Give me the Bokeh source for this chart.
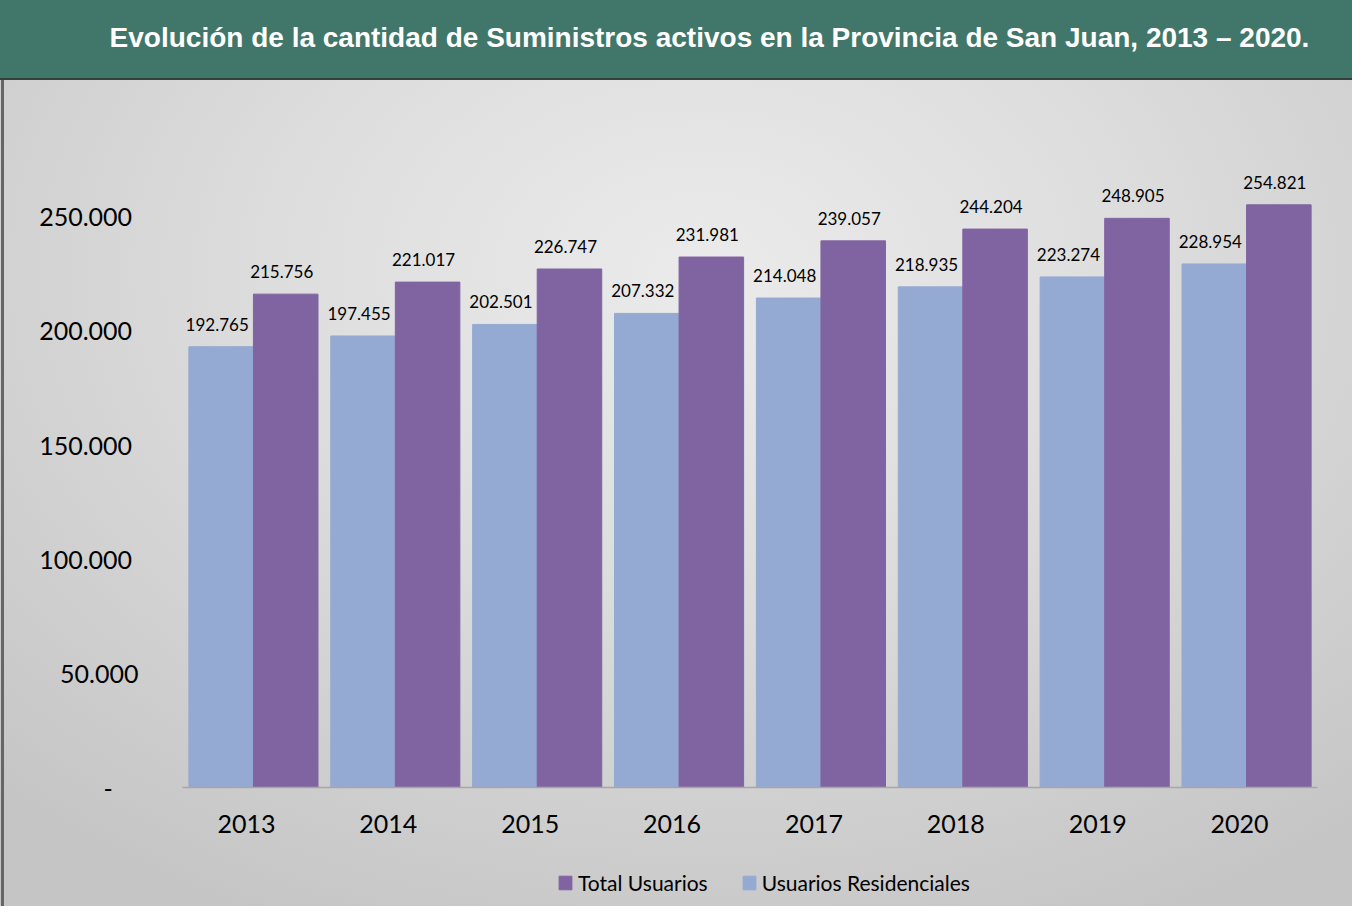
from bokeh.plotting import figure
from bokeh.models import (ColumnDataSource, Range1d, FixedTicker,
                          LabelSet, Label, Legend, LegendItem)
from bokeh.transform import dodge
from bokeh.core.properties import value
from bokeh.embed import file_html
from bokeh.resources import INLINE

# ---------------- data ----------------
years = ["2013", "2014", "2015", "2016", "2017", "2018", "2019", "2020"]
residenciales = [192765, 197455, 202501, 207332, 214048, 218935, 223274, 228954]
total = [215756, 221017, 226747, 231981, 239057, 244204, 248905, 254821]
y_ticks = [0, 50000, 100000, 150000, 200000, 250000]
title_text = "Evolución de la cantidad de Suministros activos en la Provincia de San Juan, 2013 – 2020."
legend_labels = ["Total Usuarios", "Usuarios Residenciales"]


def fmt(v):
    return f"{v:,}".replace(",", ".")


NB = "\u00a0"
idx = list(range(len(years)))
src = ColumnDataSource(dict(
    idx=idx,
    res=residenciales,
    tot=total,
    res_lbl=[fmt(v) for v in residenciales],
    tot_lbl=[fmt(v) for v in total],
))

# ---------------- layout (pixels) ----------------
W, H = 1352, 906
PLOT_L, PLOT_R, PLOT_T, BASE = 182, 1317, 101, 787   # plotting area / baseline
YMAX = 300000
LIGHT = "#95aad2"
PURPLE = "#8064a2"
px_per_cat = (PLOT_R - PLOT_L) / len(years)
ppu = (BASE - PLOT_T) / YMAX
label_shift = -7 / px_per_cat          # year labels sit slightly left of the bar pairs

p = figure(width=W, height=H, output_backend="svg", toolbar_location=None,
           x_range=Range1d(-0.5 - PLOT_L / px_per_cat,
                           len(years) - 0.5 + (W - PLOT_R) / px_per_cat),
           y_range=Range1d(-(H - BASE) / ppu, BASE / ppu),
           min_border=0)

p.background_fill_alpha = 0
p.border_fill_alpha = 0
p.outline_line_color = None
p.xgrid.visible = False
p.ygrid.visible = False

p.styles = {
    "background":
        "linear-gradient(#41776a,#41776a) 0 0 / 100% 78px no-repeat,"
        "linear-gradient(#33413c,#33413c) 0 78px / 100% 2px no-repeat,"
        "linear-gradient(#666666,#666666) 1px 80px / 3px 100% no-repeat,"
        "radial-gradient(ellipse 75% 80% at 52% 30%, #ebebeb 0%, #dedede 40%, #c5c5c5 100%)"
}

# title in the green band
title = Label(x=709, y=H - 37, x_units="screen", y_units="screen",
              text=title_text, text_align="center", text_baseline="middle",
              text_font="Liberation Sans", text_font_style="bold",
              text_font_size="28px", text_color="#ffffff")
p.add_layout(title)

bw = 0.455
r_res = p.vbar(x=dodge("idx", -bw / 2), top="res", width=bw,
               source=src, fill_color=LIGHT, line_color=LIGHT)
r_tot = p.vbar(x=dodge("idx", bw / 2), top="tot", width=bw,
               source=src, fill_color=PURPLE, line_color=PURPLE)

for col, lbl, off in [("res", "res_lbl", -bw / 2), ("tot", "tot_lbl", bw / 2)]:
    ls = LabelSet(x=dodge("idx", off), y=col, text=lbl, source=src,
                  x_offset=-4, y_offset=16, text_align="center",
                  text_baseline="alphabetic", text_font=value("Lato"),
                  text_font_size="17px", text_color="#000000")
    p.add_layout(ls)

# x axis, drawn at the zero line
xa = p.xaxis[0]
x_ticks = [i + label_shift for i in idx]
xa.fixed_location = 0
xa.bounds = (-0.5, len(years) - 0.5)
xa.ticker = FixedTicker(ticks=x_ticks)
xa.major_label_overrides = {t: y for t, y in zip(x_ticks, years)}
xa.axis_line_color = "#a6a6a6"
xa.axis_line_width = 1.6
xa.major_tick_line_color = None
xa.minor_tick_line_color = None
xa.major_tick_in = 0
xa.major_tick_out = 0
xa.minor_tick_out = 0
xa.major_label_text_font = "Lato"
xa.major_label_text_font_size = "25px"
xa.major_label_text_color = "#000000"
xa.major_label_standoff = 27

# y axis, drawn at the left edge of the bar area
ya = p.yaxis[0]
ya.fixed_location = -0.5
ya.bounds = (0, 250000)
ya.ticker = FixedTicker(ticks=y_ticks)
ya.axis_line_color = None
ya.major_tick_line_color = None
ya.minor_tick_line_color = None
ya.major_tick_in = 0
ya.major_tick_out = 0
ya.minor_tick_out = 0
ya.major_label_text_font = "Lato"
ya.major_label_text_font_size = "25px"
ya.major_label_text_color = "#000000"
ya.major_label_standoff = 44
ov = {}
for t in y_ticks:
    if t == 0:
        ov[t] = "-" + NB * 4
    elif t < 100000:
        ov[t] = fmt(t)
    else:
        ov[t] = fmt(t) + NB
ya.major_label_overrides = ov

legend = Legend(items=[LegendItem(label=legend_labels[0], renderers=[r_tot]),
                       LegendItem(label=legend_labels[1], renderers=[r_res])],
                orientation="horizontal", location=(557, 11),
                glyph_width=16, glyph_height=17, label_standoff=5, spacing=33,
                padding=0, margin=0, border_line_color=None,
                background_fill_alpha=0, label_text_font="Lato",
                label_text_font_size="21px", label_text_color="#000000")
p.add_layout(legend)

open("out.html", "w").write(file_html(p, INLINE))
